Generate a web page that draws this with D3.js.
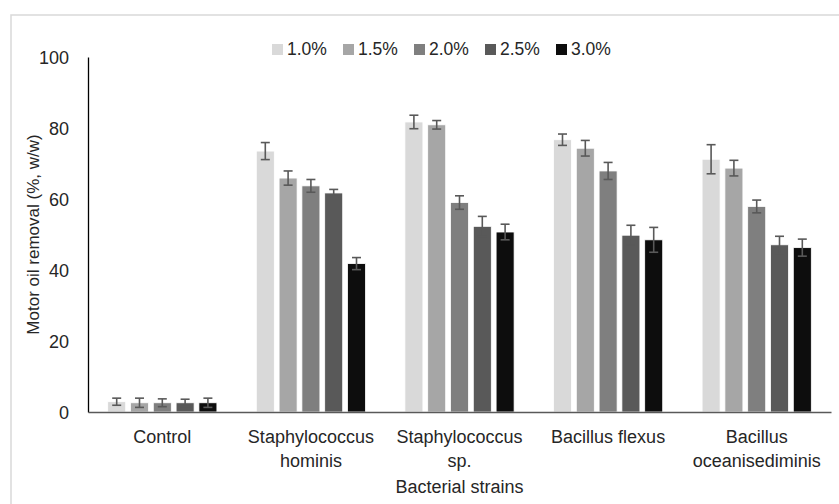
<!DOCTYPE html>
<html>
<head>
<meta charset="utf-8">
<script src="https://cdn.jsdelivr.net/npm/d3@7"></script>
<style>
  html, body { margin: 0; padding: 0; background: #fff; }
  text { font-family: "Liberation Sans", Arial, sans-serif; fill: #262626; }
</style>
</head>
<body>
<div id="chart"></div>
<script>
const WIDTH = 839, HEIGHT = 504;
const M = { top: 57, right: 8, bottom: 92, left: 88 };
const innerW = WIDTH - M.left - M.right;
const innerH = HEIGHT - M.top - M.bottom;

// data
const strains = ["Control", "Staphylococcus hominis", "Staphylococcus sp.", "Bacillus flexus", "Bacillus oceanisediminis"];
const doses = ["1.0%", "1.5%", "2.0%", "2.5%", "3.0%"];
const removal = [
  [2.9, 2.6, 2.6, 2.6, 2.6],
  [73.5, 65.9, 63.7, 61.7, 41.8],
  [81.7, 80.9, 59.0, 52.3, 50.7],
  [76.7, 74.3, 67.9, 49.8, 48.5],
  [71.2, 68.7, 57.9, 47.1, 46.3]
];
const errors = [
  [1.0, 1.3, 1.1, 1.0, 1.3],
  [2.4, 2.0, 1.8, 1.0, 1.7],
  [1.9, 1.2, 1.9, 2.8, 2.2],
  [1.6, 2.2, 2.4, 2.8, 3.5],
  [4.1, 2.2, 1.8, 2.4, 2.4]
];
const yTicks = [0, 20, 40, 60, 80, 100];
const colors = ["#d9d9d9", "#a6a6a6", "#7f7f7f", "#595959", "#0d0d0d"];

const rows = strains.flatMap((s, i) => doses.map((d, j) => ({ strain: s, dose: d, value: removal[i][j], err: errors[i][j] })));

const svg = d3.select("#chart").append("svg")
  .attr("width", WIDTH).attr("height", HEIGHT);

// outer chart frame (only top/left visible in the crop)
svg.append("rect").attr("x", 11).attr("y", 15).attr("width", 840).attr("height", 500)
  .attr("fill", "none").attr("stroke", "#d9d9d9").attr("stroke-width", 1.5);

const g = svg.append("g").attr("transform", `translate(${M.left},${M.top})`);

const x0 = d3.scaleBand().domain(strains).range([0, innerW]);
const gw = x0.bandwidth() * 0.735;
const x1 = d3.scaleBand().domain(doses)
  .range([(x0.bandwidth() - gw) / 2, (x0.bandwidth() + gw) / 2]).paddingInner(0.21);
const y = d3.scaleLinear().domain([0, 100]).range([innerH, 0]);
const color = d3.scaleOrdinal().domain(doses).range(colors);

// y axis: line + labels, no ticks
const yAxis = g.append("g").call(d3.axisLeft(y).tickValues(yTicks).tickSize(0).tickPadding(19));
yAxis.select(".domain").attr("stroke", "#000").attr("stroke-width", 1.3);
yAxis.selectAll("text").style("font-size", "18px").attr("fill", "#262626").attr("dy", "0.36em");

// bars
g.selectAll(".bar").data(rows).join("rect")
  .attr("class", "bar")
  .attr("x", d => x0(d.strain) + x1(d.dose))
  .attr("y", d => y(d.value))
  .attr("width", x1.bandwidth())
  .attr("height", d => y(0) - y(d.value))
  .attr("fill", d => color(d.dose))
  .attr("stroke", "#fff").attr("stroke-width", 0.8);

// error bars
const eb = g.selectAll(".err").data(rows).join("g").attr("class", "err")
  .attr("transform", d => `translate(${x0(d.strain) + x1(d.dose) + x1.bandwidth() / 2},0)`)
  .attr("stroke", "#595959").attr("stroke-width", 1.6);
eb.append("line").attr("y1", d => y(d.value + d.err)).attr("y2", d => y(d.value - d.err));
eb.append("line").attr("x1", -4.5).attr("x2", 4.5).attr("y1", d => y(d.value + d.err)).attr("y2", d => y(d.value + d.err));
eb.append("line").attr("x1", -4.5).attr("x2", 4.5).attr("y1", d => y(d.value - d.err)).attr("y2", d => y(d.value - d.err));

// x axis
const xAxis = g.append("g").attr("transform", `translate(0,${innerH})`)
  .call(d3.axisBottom(x0).tickSize(0).tickPadding(0));
xAxis.select(".domain").attr("stroke", "#595959").attr("stroke-width", 1.3);
xAxis.selectAll("text").style("font-size", "18px").attr("fill", "#262626")
  .attr("dy", null).attr("y", null)
  .each(function(d) {
    const t = d3.select(this);
    const words = d.split(" ");
    const lines = [];
    let cur = "";
    words.forEach(w => {
      const test = cur ? cur + " " + w : w;
      if (test.length > 15 && cur) { lines.push(cur); cur = w; } else cur = test;
    });
    lines.push(cur);
    t.text(null);
    lines.forEach((l, i) => t.append("tspan").attr("x", 0).attr("y", 31 + i * 24).text(l));
  });

// axis titles
g.append("text").attr("x", innerW / 2).attr("y", innerH + 81)
  .attr("text-anchor", "middle").style("font-size", "18px").text("Bacterial strains");
svg.append("text")
  .attr("transform", `translate(39,${M.top + innerH / 2}) rotate(-90)`)
  .attr("text-anchor", "middle").style("font-size", "17px").text("Motor oil removal (%, w/w)");

// legend
const legend = svg.append("g").attr("transform", "translate(272,49)");
const li = legend.selectAll("g").data(doses).join("g")
  .attr("transform", (d, i) => `translate(${i * 71},0)`);
li.append("rect").attr("x", 0).attr("y", -5).attr("width", 11).attr("height", 11)
  .attr("fill", d => color(d));
li.append("text").attr("x", 15).attr("y", 0).attr("dy", "0.36em")
  .style("font-size", "17.5px").text(d => d);
</script>
</body>
</html>
